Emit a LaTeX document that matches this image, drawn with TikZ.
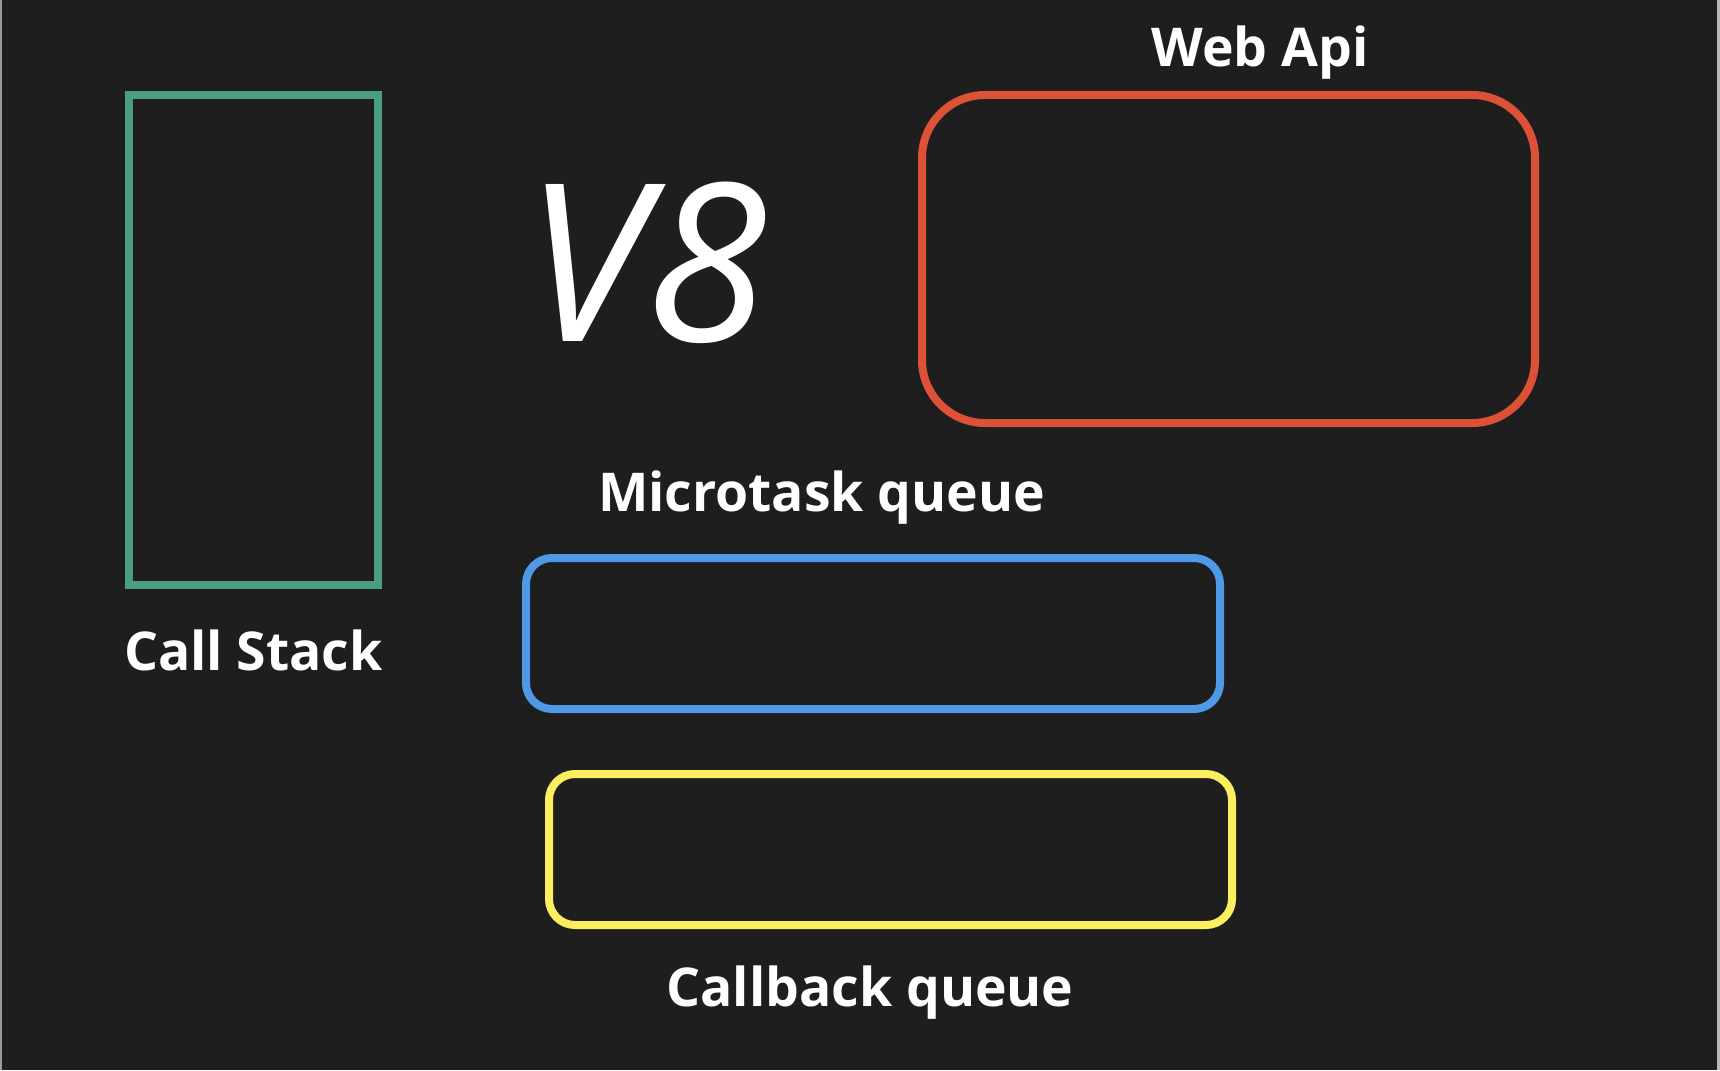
\documentclass[tikz,border=0pt]{standalone}
\usepackage{fontspec}
\setmainfont{Open Sans}
\definecolor{bg}{HTML}{1E1E1E}
\definecolor{cgreen}{HTML}{4A9E84}
\definecolor{cred}{HTML}{DD5237}
\definecolor{cblue}{HTML}{4E9AE6}
\definecolor{cyellow}{HTML}{FCEF5F}
\definecolor{edgegray}{HTML}{9A9A9A}
\tikzset{
  boxshape/.style={draw, line width=8pt, rectangle, inner sep=0pt, fill=none},
  label/.style={text=white, anchor=base, inner sep=0pt, font=\bfseries\fontsize{53.5}{58}\selectfont},
}
\begin{document}
\begin{tikzpicture}[x=1pt,y=-1pt]
\useasboundingbox (0,0) rectangle (1720,1070);
\fill[bg] (0,0) rectangle (1720,1070);
\fill[edgegray] (0,0) rectangle (1.5,1070);
\fill[edgegray!70!white] (1716.5,0) rectangle (1720,1070);
% boxes
\node[boxshape, draw=cgreen, minimum width=249pt, minimum height=490pt] (stack) at (253.5,340) {};
\node[boxshape, draw=cred, minimum width=613pt, minimum height=328pt, rounded corners=63pt] (webapi) at (1228.5,259) {};
\node[boxshape, draw=cblue, minimum width=694pt, minimum height=151pt, rounded corners=26pt] (micro) at (873,633.5) {};
\node[boxshape, draw=cyellow, minimum width=683pt, minimum height=151pt, rounded corners=26pt] (callback) at (890.5,849.5) {};
% labels
\node[label] (webapilbl) at (1260,66.5) {Web Api};
\node[label] (microlbl) at (821.7,511.7) {Microtask queue};
\node[label] (stacklbl) at (253.4,670) {Call Stack};
\node[label] (callbacklbl) at (870,1006) {Callback queue};
\node[text=white, anchor=base, inner sep=0pt, font=\itshape\fontsize{220}{230}\selectfont] (v8) at (647,341.7) {V8};
\end{tikzpicture}
\end{document}
